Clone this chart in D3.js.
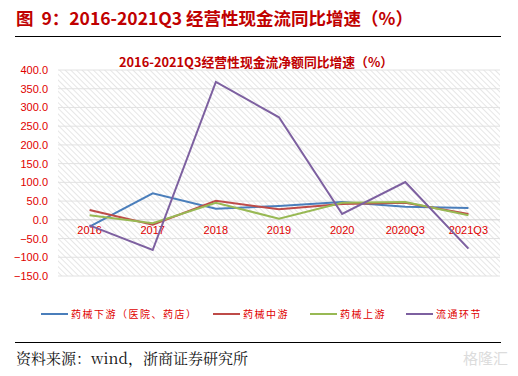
<!DOCTYPE html>
<html>
<head>
<meta charset="utf-8">
<script src="https://cdn.jsdelivr.net/npm/d3@7/dist/d3.min.js"></script>
<style>
  body { margin: 0; background: #fff; }
  svg { display: block; }
</style>
</head>
<body>
<svg id="chart" width="518" height="376"></svg>
<script>
const categories = ["2016", "2017", "2018", "2019", "2020", "2020Q3", "2021Q3"];
const seriesNames = ["药械下游（医院、药店）", "药械中游", "药械上游", "流通环节"];
const downstream = [-18, 70.7, 29.6, 36.8, 47.5, 35, 31.5];
const midstream = [26, -13, 51, 28, 42, 45.6, 15.5];
const upstream = [12, -9, 45.6, 3, 45.6, 47.5, 12];
const circulation = [-15, -80.6, 368, 273.7, 15.5, 101, -77];
const yTicks = [400, 350, 300, 250, 200, 150, 100, 50, 0, -50, -100, -150];
const colors = ["#4a7ebb", "#be4b48", "#98b954", "#7d60a0"];

const series = [downstream, midstream, upstream, circulation];

const svg = d3.select("#chart");

// 页眉
svg.append("text")
    .attr("x", 16).attr("y", 25)
    .attr("font-family", "Noto Sans CJK SC, sans-serif")
    .attr("font-weight", "bold")
    .attr("font-size", 17.5)
    .attr("fill", "#c00000")
    .style("white-space", "pre")
    .text("图  9：2016-2021Q3 经营性现金流同比增速（%）");

svg.append("line")
    .attr("x1", 15).attr("x2", 501).attr("y1", 36.5).attr("y2", 36.5)
    .attr("stroke", "#000").attr("stroke-width", 1.2);

// 图内标题
svg.append("text")
    .attr("x", 256).attr("y", 67)
    .attr("text-anchor", "middle")
    .attr("font-family", "Noto Sans CJK SC, sans-serif")
    .attr("font-weight", "bold")
    .attr("font-size", 12.8)
    .attr("fill", "#c00000")
    .text("2016-2021Q3经营性现金流净额同比增速（%）");

const plotL = 58, plotR = 500, plotT = 70, plotB = 276;

const x = d3.scaleBand().domain(categories).range([plotL, plotR]);
const y = d3.scaleLinear().domain([-150, 400]).range([plotB, plotT]);

// 斜线底纹
const defs = svg.append("defs");
const pat = defs.append("pattern")
    .attr("id", "hatch")
    .attr("patternUnits", "userSpaceOnUse")
    .attr("width", 4).attr("height", 4)
    .attr("patternTransform", "rotate(-45)");
pat.append("line")
    .attr("x1", 0).attr("y1", 0).attr("x2", 0).attr("y2", 4)
    .attr("stroke", "#dedede").attr("stroke-width", 1.5);

svg.append("rect")
    .attr("x", plotL).attr("y", plotT)
    .attr("width", plotR - plotL).attr("height", plotB - plotT)
    .attr("fill", "url(#hatch)");

// 网格线
svg.append("g")
    .selectAll("line")
    .data(yTicks)
    .join("line")
    .attr("x1", plotL).attr("x2", plotR)
    .attr("y1", d => y(d)).attr("y2", d => y(d))
    .attr("stroke", d => d === 0 ? "#d0d0d0" : "#e2e2e2")
    .attr("stroke-width", 1);

// y 轴
const yAxis = svg.append("g")
    .attr("transform", `translate(${plotL},0)`)
    .call(d3.axisLeft(y).tickValues(yTicks).tickFormat(d3.format(".1f")).tickSize(0).tickPadding(10));
yAxis.select(".domain").remove();
yAxis.selectAll("text")
    .attr("font-family", "Liberation Sans, Arial, sans-serif")
    .attr("font-size", 11)
    .attr("fill", "#e00000");

// x 轴标签（在零线处）
const xAxis = svg.append("g")
    .attr("transform", `translate(0,${y(0)})`)
    .call(d3.axisBottom(x).tickSize(0).tickPadding(6));
xAxis.select(".domain").remove();
xAxis.selectAll("text")
    .attr("font-family", "Liberation Sans, Arial, sans-serif")
    .attr("font-size", 11)
    .attr("fill", "#e00000");

// 折线
const line = d3.line()
    .x((d, i) => x(categories[i]) + x.bandwidth() / 2)
    .y(d => y(d));

svg.append("g")
    .selectAll("path")
    .data(series)
    .join("path")
    .attr("d", d => line(d))
    .attr("fill", "none")
    .attr("stroke", (d, i) => colors[i])
    .attr("stroke-width", 2);

// 图例
const legendX = [41, 213, 310, 406];
const legend = svg.append("g")
    .selectAll("g")
    .data(seriesNames)
    .join("g")
    .attr("transform", (d, i) => `translate(${legendX[i]},314)`);
legend.append("line")
    .attr("x1", 0).attr("x2", 27).attr("y1", 0).attr("y2", 0)
    .attr("stroke", (d, i) => colors[i]).attr("stroke-width", 2);
legend.append("text")
    .attr("x", 30).attr("y", 4)
    .attr("font-family", "Noto Sans CJK SC, sans-serif")
    .attr("font-size", 10)
    .attr("letter-spacing", 1.5)
    .attr("fill", "#e00000")
    .text(d => d);

// 页脚
svg.append("line")
    .attr("x1", 15).attr("x2", 501).attr("y1", 342.5).attr("y2", 342.5)
    .attr("stroke", "#000").attr("stroke-width", 1.2);

svg.append("text")
    .attr("x", 16).attr("y", 364)
    .attr("font-family", "Noto Serif CJK SC, Liberation Serif, serif")
    .attr("font-size", 15)
    .attr("fill", "#111")
    .text("资料来源：wind，浙商证券研究所");

svg.append("text")
    .attr("x", 508).attr("y", 364)
    .attr("text-anchor", "end")
    .attr("font-family", "Noto Sans CJK SC, sans-serif")
    .attr("font-size", 15)
    .attr("fill", "#dcdcdc")
    .text("格隆汇");
</script>
</body>
</html>
